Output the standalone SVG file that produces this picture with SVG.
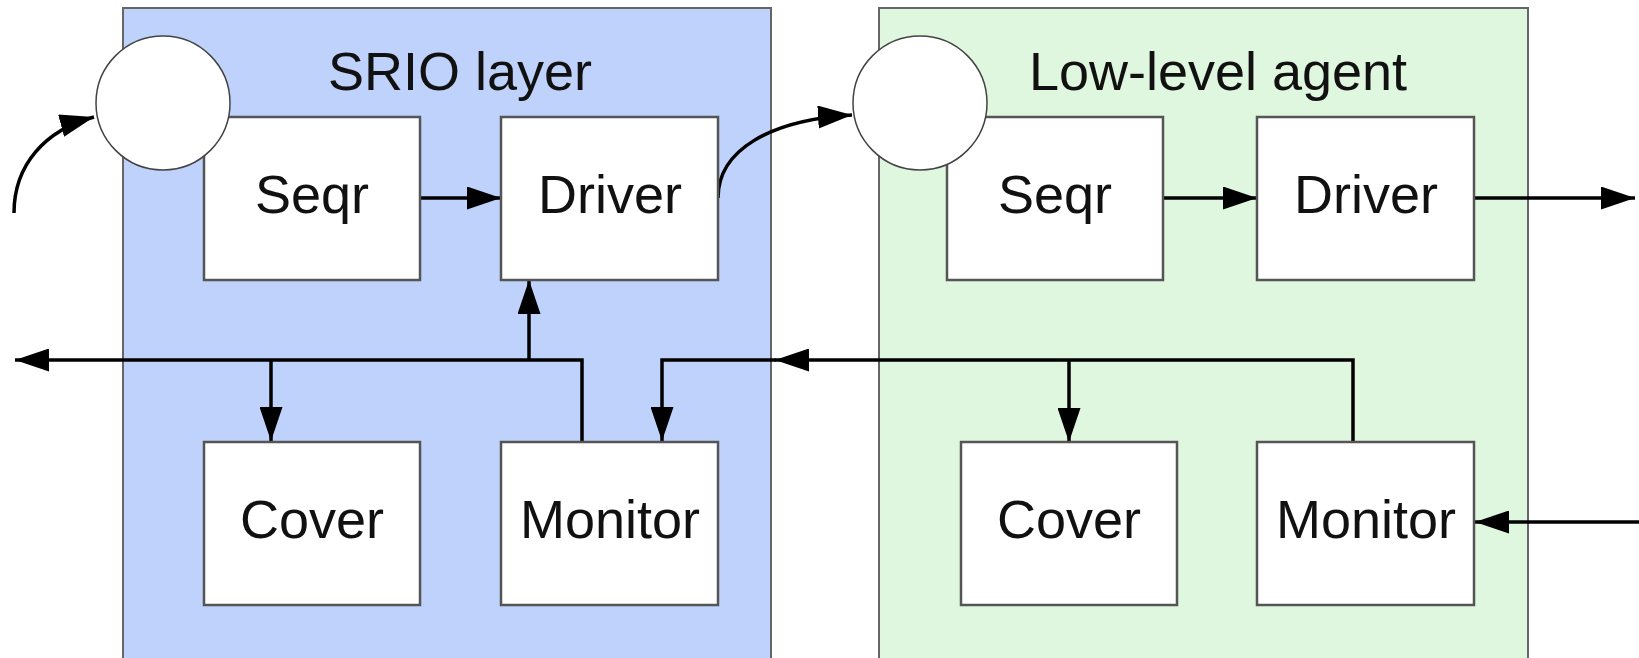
<svg xmlns="http://www.w3.org/2000/svg" width="1639" height="658" viewBox="0 0 1639 658">
  <style>
    .panel { stroke: #666; stroke-width: 2; }
    .box { fill: #fff; stroke: #555; stroke-width: 2.5; }
    .port { fill: #fff; stroke: #444; stroke-width: 1.5; }
    .lbl { font-family: "Liberation Sans", Arial, sans-serif; font-size: 54px; fill: #111; text-anchor: middle; }
    .wire { fill: none; stroke: #000; stroke-width: 3.5; }
    .arrow { marker-end: url(#head); }
  </style>
  <defs>
    <marker id="head" markerUnits="userSpaceOnUse" viewBox="0 0 34 23" refX="34" refY="11.5" markerWidth="34" markerHeight="23" orient="auto">
      <path d="M0,0 L34,11.5 L0,23 z" fill="#000"/>
    </marker>
  </defs>

  <rect width="1639" height="658" fill="#fff"/>

  <!-- containers -->
  <g id="srio-layer">
    <rect class="panel" x="123" y="8" width="648" height="652" fill="#bfd2fc"/>
    <text class="lbl" x="460" y="90">SRIO layer</text>
  </g>
  <g id="low-level-agent">
    <rect class="panel" x="879" y="8" width="649" height="652" fill="#dff6df"/>
    <text class="lbl" x="1218" y="90">Low-level agent</text>
  </g>

  <!-- connectors -->
  <g id="connectors">
    <path class="wire arrow" d="M14,213 C14,165 45,130 94,117"/>
    <path class="wire arrow" d="M420,198 L501,198"/>
    <path class="wire arrow" d="M718,198 C718,150 770,120 852,115"/>
    <path class="wire arrow" d="M1163,198 L1257,198"/>
    <path class="wire arrow" d="M1474,198 L1635,198"/>
    <path class="wire arrow" d="M582,442 L582,360 L15,360"/>
    <path class="wire arrow" d="M529,360 L529,280"/>
    <path class="wire arrow" d="M271,360 L271,441"/>
    <path class="wire arrow" d="M1353,442 L1353,360 L775,360"/>
    <path class="wire arrow" d="M776,360 L662,360 L662,441"/>
    <path class="wire arrow" d="M1069,360 L1069,442"/>
    <path class="wire arrow" d="M1639,522 L1475,522"/>
  </g>

  <!-- SRIO layer contents -->
  <g id="srio-seqr">
    <rect class="box" x="204" y="117" width="216" height="163"/>
    <text class="lbl" x="312" y="213">Seqr</text>
  </g>
  <g id="srio-driver">
    <rect class="box" x="501" y="117" width="217" height="163"/>
    <text class="lbl" x="610" y="213">Driver</text>
  </g>
  <g id="srio-cover">
    <rect class="box" x="204" y="442" width="216" height="163"/>
    <text class="lbl" x="312" y="538">Cover</text>
  </g>
  <g id="srio-monitor">
    <rect class="box" x="501" y="442" width="217" height="163"/>
    <text class="lbl" x="610" y="538">Monitor</text>
  </g>
  <g id="srio-port">
    <circle class="port" cx="163" cy="103" r="67"/>
  </g>

  <!-- Low-level agent contents -->
  <g id="ll-seqr">
    <rect class="box" x="947" y="117" width="216" height="163"/>
    <text class="lbl" x="1055" y="213">Seqr</text>
  </g>
  <g id="ll-driver">
    <rect class="box" x="1257" y="117" width="217" height="163"/>
    <text class="lbl" x="1366" y="213">Driver</text>
  </g>
  <g id="ll-cover">
    <rect class="box" x="961" y="442" width="216" height="163"/>
    <text class="lbl" x="1069" y="538">Cover</text>
  </g>
  <g id="ll-monitor">
    <rect class="box" x="1257" y="442" width="217" height="163"/>
    <text class="lbl" x="1366" y="538">Monitor</text>
  </g>
  <g id="ll-port">
    <circle class="port" cx="920" cy="103" r="67"/>
  </g>
</svg>
